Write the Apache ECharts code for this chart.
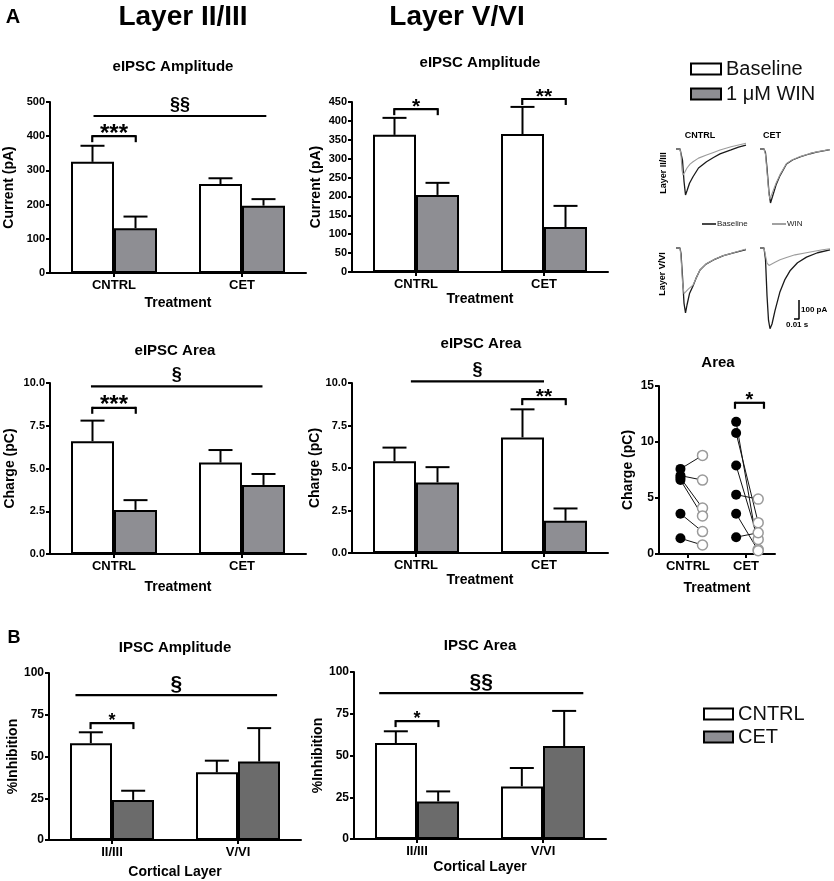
<!DOCTYPE html>
<html><head><meta charset="utf-8">
<script src="https://cdn.jsdelivr.net/npm/echarts@6.0.0/dist/echarts.min.js"></script>
<style>html,body{margin:0;padding:0;background:#fff}#c{width:834px;height:881px}</style>
</head><body><div id="c"></div>
<script>
const FONT = "'Liberation Sans', Arial, Helvetica, sans-serif";

// ---------- categories ----------
const treatmentCats = ['CNTRL', 'CET'];
const layerCats = ['II/III', 'V/VI'];

// ---------- A: eIPSC amplitude (pA) ----------
const ampL23Baseline = [325, 260];
const ampL23BaselineSem = [47, 17];
const ampL23Win = [131, 197];
const ampL23WinSem = [34, 19];
const ampL56Baseline = [363, 365];
const ampL56BaselineSem = [45, 72];
const ampL56Win = [204, 119];
const ampL56WinSem = [32, 56];

// ---------- A: eIPSC area (pC) ----------
const areaL23Baseline = [6.6, 5.35];
const areaL23BaselineSem = [1.2, 0.73];
const areaL23Win = [2.58, 4.04];
const areaL23WinSem = [0.57, 0.64];
const areaL56Baseline = [5.4, 6.8];
const areaL56BaselineSem = [0.8, 1.65];
const areaL56Win = [4.15, 1.9];
const areaL56WinSem = [0.9, 0.72];

// ---------- A: paired area, individual cells (pC) ----------
const pairCntrlBaseline = [7.6, 7.0, 6.8, 6.6, 3.6, 1.4];
const pairCntrlWin = [8.8, 6.6, 4.1, 3.4, 2.0, 0.8];
const pairCetBaseline = [11.8, 10.8, 7.9, 5.3, 3.6, 1.5];
const pairCetWin = [0.4, 2.8, 1.3, 4.9, 0.3, 1.9];
const pairX = { cntrlBaseline: 0.87, cntrlWin: 1.25, cetBaseline: 1.83, cetWin: 2.21 };

// ---------- B: % inhibition ----------
const inhAmpCntrl = [58, 40.5];
const inhAmpCntrlSem = [6.5, 7];
const inhAmpCet = [24, 47];
const inhAmpCetSem = [5.5, 20];
const inhAreaCntrl = [57.5, 31.5];
const inhAreaCntrlSem = [7, 11];
const inhAreaCet = [22.5, 55.7];
const inhAreaCetSem = [6, 21];

// ---------- significance marks (x in category units, y in data units) ----------
const sigAmpL23 = [{ from: -0.16, to: 1.19, y: 459, mark: '§§', kind: 'line' }, { from: -0.17, to: 0.17, y: 400, mark: '***', kind: 'bracket' }];
const sigAmpL56 = [{ from: -0.17, to: 0.17, y: 431, mark: '*', kind: 'bracket' }, { from: 0.83, to: 1.17, y: 458, mark: '**', kind: 'bracket' }];
const sigAreaL23 = [{ from: -0.18, to: 1.16, y: 9.8, mark: '§', kind: 'line' }, { from: -0.17, to: 0.17, y: 8.55, mark: '***', kind: 'bracket' }];
const sigAreaL56 = [{ from: -0.04, to: 1.0, y: 10.1, mark: '§', kind: 'line' }, { from: 0.83, to: 1.17, y: 9.05, mark: '**', kind: 'bracket' }];
const sigPaired = [{ from: 1.81, to: 2.31, y: 13.5, mark: '*', kind: 'bracket' }];
const sigInhAmp = [{ from: -0.29, to: 1.31, y: 86.7, mark: '§', kind: 'line' }, { from: -0.17, to: 0.17, y: 70, mark: '*', kind: 'bracket' }];
const sigInhArea = [{ from: -0.30, to: 1.32, y: 87.4, mark: '§§', kind: 'line' }, { from: -0.17, to: 0.17, y: 70.6, mark: '*', kind: 'bracket' }];

// ---------- example traces [ms, pA] ----------
const traceL23CntrlBaseline = [[0,0],[8,0],[10,-10],[13,-60],[16,-170],[19,-242],[22,-220],[27,-180],[34,-146],[45,-100],[61,-67],[75,-45],[88,-26],[110,-5],[125,10],[140,20]];
const traceL23CntrlWin = [[0,0],[8,0],[10,-30],[12,-110],[14,-137],[17,-125],[22,-100],[28,-80],[34,-67],[45,-48],[61,-32],[75,-18],[88,-5],[110,12],[140,30]];
const traceL23CetBaseline = [[0,0],[8,0],[11,-20],[14,-100],[18,-230],[21,-284],[25,-250],[32,-190],[40,-140],[53,-79],[65,-58],[80,-42],[100,-25],[113,-16],[140,-3]];
const traceL23CetWin = [[0,0],[8,0],[11,-30],[14,-120],[18,-240],[20,-262],[24,-235],[32,-180],[40,-135],[53,-76],[65,-56],[80,-40],[100,-24],[113,-15],[140,-3]];
const traceL56CntrlBaseline = [[0,0],[8,0],[10,-30],[13,-150],[16,-290],[19,-342],[22,-300],[27,-240],[34,-200],[40,-160],[48,-116],[60,-85],[75,-63],[95,-40],[115,-26],[140,-8]];
const traceL56CntrlWin = [[0,0],[8,0],[10,-50],[13,-180],[16,-240],[20,-230],[25,-215],[34,-195],[40,-160],[48,-115],[60,-84],[75,-62],[95,-40],[115,-25],[140,-5]];
const traceL56CetBaseline = [[0,0],[8,0],[11,-60],[14,-250],[17,-380],[20,-425],[24,-400],[30,-330],[40,-230],[50,-165],[60,-120],[75,-78],[93,-48],[115,-25],[140,-10]];
const traceL56CetWin = [[0,0],[8,0],[11,-40],[14,-80],[18,-92],[22,-88],[30,-75],[40,-62],[53,-50],[70,-36],[90,-26],[106,-18],[125,-9],[140,-4]];
const scaleBar = [[78,-274],[78,-374],[68,-374]]; // 100 pA / 10 ms

// ---------- styles ----------
const GRAY_A = '#8e8e93';
const GRAY_B = '#6b6b6b';

function errRender(side) {
  return function (params, api) {
    const c = api.value(0), m = api.value(1), s = api.value(2);
    const band = api.size([1, 0])[0];
    const p0 = api.coord([c, m]);
    const p1 = api.coord([c, m + s]);
    const x = p0[0] + side * band * 0.168;
    const hw = 12;
    return { type: 'group', children: [
      { type: 'line', shape: { x1: x, y1: p0[1], x2: x, y2: p1[1] }, style: { stroke: '#000', lineWidth: 2 } },
      { type: 'line', shape: { x1: x - hw, y1: p1[1], x2: x + hw, y2: p1[1] }, style: { stroke: '#000', lineWidth: 2 } }
    ] };
  };
}

function sigSeries(xi, yi, sig, sizes) {
  return {
    type: 'custom', name: 'sig', xAxisIndex: xi, yAxisIndex: yi, silent: true, z: 4,
    data: sig.map(s => [0, s.y]),
    renderItem: function (params, api) {
      const s = sig[params.dataIndex];
      const c0 = api.coord([0, s.y]), c1 = api.coord([1, s.y]);
      const xa = c0[0] + s.from * (c1[0] - c0[0]);
      const xb = c0[0] + s.to * (c1[0] - c0[0]);
      const y = c0[1];
      const ch = [{ type: 'line', shape: { x1: xa, y1: y, x2: xb, y2: y }, style: { stroke: '#000', lineWidth: 2.2 } }];
      if (s.kind === 'bracket') {
        ch.push({ type: 'line', shape: { x1: xa, y1: y - 1, x2: xa, y2: y + 6 }, style: { stroke: '#000', lineWidth: 2.2 } });
        ch.push({ type: 'line', shape: { x1: xb, y1: y - 1, x2: xb, y2: y + 6 }, style: { stroke: '#000', lineWidth: 2.2 } });
      }
      const isSec = s.mark.indexOf('§') >= 0;
      ch.push({ type: 'text', x: (xa + xb) / 2, y: y + (isSec ? -11 : -2),
        style: { text: s.mark, fontFamily: FONT, fontWeight: 'bold', fontSize: isSec ? sizes.sec : sizes.star,
          fill: '#000', align: 'center', verticalAlign: 'middle' } });
      return { type: 'group', children: ch };
    }
  };
}

function barPanel(g, names, vals, sems, colors, barW, sig, sizes) {
  const out = [];
  [0, 1].forEach(k => {
    out.push({ type: 'bar', name: names[k], xAxisIndex: g, yAxisIndex: g, data: vals[k], barWidth: barW, barGap: '0%',
      itemStyle: { color: colors[k], borderColor: '#000', borderWidth: 2 }, silent: true, z: 2 });
  });
  [0, 1].forEach(k => {
    out.push({ type: 'custom', name: 'sem', xAxisIndex: g, yAxisIndex: g, silent: true, z: 3,
      data: vals[k].map((v, i) => [i, v, sems[k][i]]), renderItem: errRender(k === 0 ? -1 : 1) });
  });
  out.push(sigSeries(g, g, sig, sizes));
  return out;
}

const axisLineStyle = { show: true, lineStyle: { color: '#000', width: 2 } };
const tickStyle = { show: true, length: 4, lineStyle: { color: '#000', width: 2 } };

function catAxis(g, cats, name, gap, labelSize) {
  return { type: 'category', gridIndex: g, data: cats, name: name, nameLocation: 'middle', nameGap: gap,
    nameTextStyle: { fontFamily: FONT, fontWeight: 'bold', fontSize: 14, color: '#000' },
    axisLine: axisLineStyle, axisTick: Object.assign({ alignWithLabel: true }, tickStyle),
    axisLabel: { fontFamily: FONT, fontWeight: 'bold', fontSize: labelSize, color: '#000', margin: 6 },
    splitLine: { show: false } };
}
function valAxis(g, max, interval, name, gap, dec, labelSize) {
  return { type: 'value', gridIndex: g, min: 0, max: max, interval: interval, name: name, nameLocation: 'middle', nameGap: gap,
    nameTextStyle: { fontFamily: FONT, fontWeight: 'bold', fontSize: 14, color: '#000' },
    axisLine: axisLineStyle, axisTick: tickStyle,
    axisLabel: { fontFamily: FONT, fontWeight: 'bold', fontSize: labelSize || 11, color: '#000', margin: 5,
      formatter: v => dec ? v.toFixed(dec) : String(v) },
    splitLine: { show: false } };
}
function hiddenAxis(g, min, max) {
  return { type: 'value', gridIndex: g, min: min, max: max, show: false, splitLine: { show: false } };
}

function txt(x, y, text, size, weight, extra) {
  return Object.assign({ type: 'text', x: x, y: y, silent: true,
    style: { text: text, fontSize: size, fontWeight: weight || 'normal', fontFamily: FONT, fill: '#000', align: 'center', verticalAlign: 'middle' } }, extra || {});
}
function seg(x1, y1, x2, y2, color, w) {
  return { type: 'line', silent: true, shape: { x1: x1, y1: y1, x2: x2, y2: y2 }, style: { stroke: color, lineWidth: w } };
}
function trace(g, data, color, width) {
  return { type: 'line', xAxisIndex: g, yAxisIndex: g - 1, data: data, showSymbol: false, symbol: 'none', silent: true,
    lineStyle: { color: color, width: width }, z: 2 };
}

const grids = [
  { left: 50, top: 102, width: 256, height: 171 },   // 0 A amp II/III
  { left: 352, top: 102, width: 256, height: 170 },  // 1 A amp V/VI
  { left: 50, top: 383, width: 256, height: 171 },   // 2 A area II/III
  { left: 352, top: 383, width: 256, height: 170 },  // 3 A area V/VI
  { left: 659, top: 386, width: 116, height: 168 },  // 4 A paired area
  { left: 49, top: 673, width: 252, height: 167 },   // 5 B amp
  { left: 354, top: 672, width: 252, height: 167 },  // 6 B area
  { left: 676, top: 139.5, width: 70, height: 66.5 }, // 7 trace II/III CNTRL
  { left: 760, top: 139.5, width: 70, height: 66.5 }, // 8 trace II/III CET
  { left: 676, top: 238.5, width: 70, height: 95 },   // 9 trace V/VI CNTRL
  { left: 760, top: 238.5, width: 70, height: 95 }    // 10 trace V/VI CET
];

const xAxes = [
  catAxis(0, treatmentCats, 'Treatment', 23, 13),
  catAxis(1, treatmentCats, 'Treatment', 16, 13),
  catAxis(2, treatmentCats, 'Treatment', 26, 13),
  catAxis(3, treatmentCats, 'Treatment', 17, 13),
  catAxis(4, treatmentCats, 'Treatment', 27, 13),
  catAxis(5, layerCats, 'Cortical Layer', 25, 13),
  catAxis(6, layerCats, 'Cortical Layer', 21, 13),
  hiddenAxis(4, 0.5, 2.5),
  hiddenAxis(7, 0, 140), hiddenAxis(8, 0, 140), hiddenAxis(9, 0, 140), hiddenAxis(10, 0, 140)
];
const yAxes = [
  valAxis(0, 500, 100, 'Current (pA)', 34, 0, 11),
  valAxis(1, 450, 50, 'Current (pA)', 29, 0, 11),
  valAxis(2, 10, 2.5, 'Charge (pC)', 33, 1, 11),
  valAxis(3, 10, 2.5, 'Charge (pC)', 30, 1, 11),
  valAxis(4, 15, 5, 'Charge (pC)', 24, 0, 12),
  valAxis(5, 100, 25, '%Inhibition', 25, 0, 12),
  valAxis(6, 100, 25, '%Inhibition', 25, 0, 12),
  hiddenAxis(7, -300, 50), hiddenAxis(8, -300, 50), hiddenAxis(9, -450, 50), hiddenAxis(10, -450, 50)
];

const series = [].concat(
  barPanel(0, ['Baseline', '1 μM WIN'], [ampL23Baseline, ampL23Win], [ampL23BaselineSem, ampL23WinSem], ['#fff', GRAY_A], 43, sigAmpL23, { sec: 18, star: 24 }),
  barPanel(1, ['Baseline', '1 μM WIN'], [ampL56Baseline, ampL56Win], [ampL56BaselineSem, ampL56WinSem], ['#fff', GRAY_A], 43, sigAmpL56, { sec: 18, star: 21 }),
  barPanel(2, ['Baseline', '1 μM WIN'], [areaL23Baseline, areaL23Win], [areaL23BaselineSem, areaL23WinSem], ['#fff', GRAY_A], 43, sigAreaL23, { sec: 18, star: 24 }),
  barPanel(3, ['Baseline', '1 μM WIN'], [areaL56Baseline, areaL56Win], [areaL56BaselineSem, areaL56WinSem], ['#fff', GRAY_A], 43, sigAreaL56, { sec: 18, star: 21 }),
  barPanel(5, ['CNTRL', 'CET'], [inhAmpCntrl, inhAmpCet], [inhAmpCntrlSem, inhAmpCetSem], ['#fff', GRAY_B], 42, sigInhAmp, { sec: 21, star: 18 }),
  barPanel(6, ['CNTRL', 'CET'], [inhAreaCntrl, inhAreaCet], [inhAreaCntrlSem, inhAreaCetSem], ['#fff', GRAY_B], 42, sigInhArea, { sec: 21, star: 18 }),
  [
    { type: 'custom', name: 'pairs', xAxisIndex: 7, yAxisIndex: 4, silent: true, z: 1,
      encode: { x: [0, 2], y: [1, 3] },
      data: pairCntrlBaseline.map((v, i) => [pairX.cntrlBaseline, v, pairX.cntrlWin, pairCntrlWin[i]])
        .concat(pairCetBaseline.map((v, i) => [pairX.cetBaseline, v, pairX.cetWin, pairCetWin[i]])),
      renderItem: function (params, api) {
        const a = api.coord([api.value(0), api.value(1)]);
        const b = api.coord([api.value(2), api.value(3)]);
        return { type: 'line', shape: { x1: a[0], y1: a[1], x2: b[0], y2: b[1] }, style: { stroke: '#111', lineWidth: 1 } };
      } },
    { type: 'scatter', name: 'paired baseline', xAxisIndex: 7, yAxisIndex: 4, silent: true, z: 3, symbolSize: 10,
      data: pairCntrlBaseline.map(v => [pairX.cntrlBaseline, v]).concat(pairCetBaseline.map(v => [pairX.cetBaseline, v])),
      itemStyle: { color: '#000', opacity: 1 } },
    { type: 'scatter', name: 'paired WIN', xAxisIndex: 7, yAxisIndex: 4, silent: true, z: 3, symbolSize: 10,
      data: pairCntrlWin.map(v => [pairX.cntrlWin, v]).concat(pairCetWin.map(v => [pairX.cetWin, v])),
      itemStyle: { color: '#fff', borderColor: '#9a9a9a', borderWidth: 1.5, opacity: 1 } },
    sigSeries(7, 4, sigPaired, { sec: 18, star: 20 }),
    trace(8, traceL23CntrlBaseline, '#1a1a1a', 1.3), trace(8, traceL23CntrlWin, '#9c9c9c', 1.1),
    trace(9, traceL23CetBaseline, '#1a1a1a', 1.3), trace(9, traceL23CetWin, '#9c9c9c', 1.1),
    trace(10, traceL56CntrlBaseline, '#1a1a1a', 1.3), trace(10, traceL56CntrlWin, '#9c9c9c', 1.1),
    trace(11, traceL56CetBaseline, '#1a1a1a', 1.3), trace(11, traceL56CetWin, '#9c9c9c', 1.1),
    trace(11, scaleBar, '#000', 1.5)
  ]
);

const graphic = [
  txt(13, 17, 'A', 20, 'bold'),
  txt(183, 17, 'Layer II/III', 28, 'bold'),
  txt(457, 17, 'Layer V/VI', 28, 'bold'),
  txt(173, 67, 'eIPSC Amplitude', 15, 'bold'),
  txt(480, 63, 'eIPSC Amplitude', 15, 'bold'),
  txt(175, 351, 'eIPSC Area', 15, 'bold'),
  txt(481, 344, 'eIPSC Area', 15, 'bold'),
  txt(718, 363, 'Area', 15, 'bold'),
  txt(14, 638, 'B', 18, 'bold'),
  txt(175, 648, 'IPSC Amplitude', 15, 'bold'),
  txt(480, 646, 'IPSC Area', 15, 'bold'),
  txt(700, 136, 'CNTRL', 9, 'bold'),
  txt(772, 136, 'CET', 9, 'bold'),
  txt(664, 173, 'Layer II/III', 9, 'bold', { rotation: Math.PI / 2 }),
  txt(663, 274, 'Layer V/VI', 9, 'bold', { rotation: Math.PI / 2 }),
  seg(702, 224, 716, 224, '#1a1a1a', 1.6),
  txt(717, 224, 'Baseline', 8, 'normal', { style: { text: 'Baseline', fontSize: 8, fontFamily: FONT, fill: '#222', align: 'left', verticalAlign: 'middle' } }),
  seg(772, 224, 786, 224, '#8a8a8a', 1.6),
  txt(787, 224, 'WIN', 8, 'normal', { style: { text: 'WIN', fontSize: 8, fontFamily: FONT, fill: '#222', align: 'left', verticalAlign: 'middle' } }),
  txt(801, 310, '100 pA', 8, 'bold', { style: { text: '100 pA', fontSize: 8, fontWeight: 'bold', fontFamily: FONT, fill: '#000', align: 'left', verticalAlign: 'middle' } }),
  txt(786, 325, '0.01 s', 8, 'bold', { style: { text: '0.01 s', fontSize: 8, fontWeight: 'bold', fontFamily: FONT, fill: '#000', align: 'left', verticalAlign: 'middle' } })
];

const legendText = { fontFamily: FONT, fontSize: 20, color: '#111' };
const option = {
  animation: false,
  backgroundColor: '#fff',
  grid: grids,
  xAxis: xAxes,
  yAxis: yAxes,
  legend: [
    { data: ['Baseline', '1 μM WIN'], orient: 'vertical', left: 685, top: 54, itemWidth: 30, itemHeight: 11, itemGap: 5,
      icon: 'rect', textStyle: legendText, selectedMode: false },
    { data: ['CNTRL', { name: 'CET', itemStyle: { color: GRAY_A } }], orient: 'vertical', left: 698, top: 699, itemWidth: 29, itemHeight: 11, itemGap: 3,
      icon: 'rect', textStyle: legendText, selectedMode: false }
  ],
  graphic: graphic,
  series: series
};
const chart = echarts.init(document.getElementById('c'), null, { renderer: 'canvas' });
chart.setOption(option);
</script>
</body></html>
